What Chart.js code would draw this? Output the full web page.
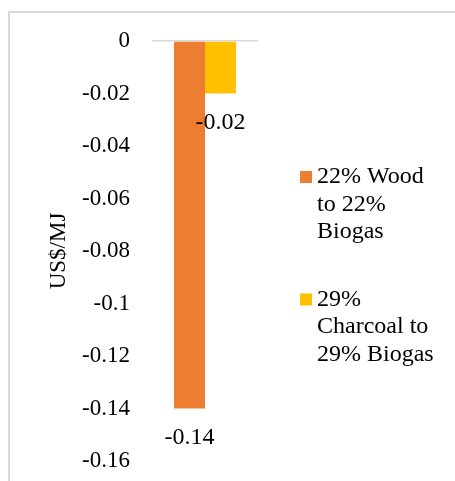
<!DOCTYPE html>
<html>
<head>
<meta charset="utf-8">
<script src="https://cdn.jsdelivr.net/npm/chart.js@4.4.0/dist/chart.umd.min.js"></script>
<style>
  html, body { margin: 0; padding: 0; background: #fff; }
  #wrap { position: relative; width: 455px; height: 481px; overflow: hidden; }
  #frame { position: absolute; left: 8px; top: 11px; width: 600px; height: 600px;
           border: 2px solid #d9d9d9; box-sizing: border-box; }
  canvas { position: absolute; left: 0; top: 0; }
</style>
</head>
<body>
<div id="wrap">
  <div id="frame"></div>
  <canvas id="chart" width="455" height="481"></canvas>
</div>
<script>
var categories = ['']
var woodValues = [-0.14]
var charcoalValues = [-0.02]
var seriesNames = ['22% Wood to 22% Biogas', '29% Charcoal to 29% Biogas']
// how each legend entry breaks over lines
var legendLines = [
  ['22% Wood', 'to 22%', 'Biogas'],
  ['29%', 'Charcoal to', '29% Biogas']
]
var yTicks = [0, -0.02, -0.04, -0.06, -0.08, -0.1, -0.12, -0.14, -0.16]

var colors = ['#ED7D31', '#FFC000']
var font = 'Liberation Serif, Times New Roman, serif'

// value under each bar
var barLabels = {
  id: 'barLabels',
  afterDatasetsDraw: function(chart){
    var ctx = chart.ctx
    ctx.save()
    ctx.font = '24px ' + font
    ctx.fillStyle = '#000'
    ctx.textAlign = 'center'
    ctx.textBaseline = 'middle'
    chart.data.datasets.forEach(function(ds, i){
      chart.getDatasetMeta(i).data.forEach(function(bar, j){
        ctx.fillText(String(ds.data[j]), bar.x, bar.y + 29)
      })
    })
    ctx.restore()
  }
}

// legend on the right with wrapped names
var sideLegend = {
  id: 'sideLegend',
  afterDraw: function(chart){
    var ctx = chart.ctx
    ctx.save()
    ctx.font = '24px ' + font
    ctx.textBaseline = 'middle'
    var y = 177
    chart.data.datasets.forEach(function(ds, i){
      ctx.fillStyle = ds.backgroundColor
      ctx.fillRect(300, y - 6, 12, 12)
      ctx.fillStyle = '#000'
      legendLines[i].forEach(function(line, k){
        ctx.fillText(line, 317, y + k * 27.5)
      })
      y += legendLines[i].length * 27.5 + 40
    })
    ctx.restore()
  }
}

var ctx = document.getElementById('chart').getContext('2d')
new Chart(ctx, {
  type: 'bar',
  data: {
    labels: categories,
    datasets: [{
      label: seriesNames[0],
      data: woodValues,
      backgroundColor: colors[0]
    }, {
      label: seriesNames[1],
      data: charcoalValues,
      backgroundColor: colors[1]
    }]
  },
  options: {
    responsive: false,
    animation: false,
    events: [],
    layout: { padding: { left: 45, right: 197, top: 41, bottom: 20 } },
    datasets: { bar: { barPercentage: 1, categoryPercentage: 0.585 } },
    plugins: {
      legend: { display: false },
      tooltip: { enabled: false }
    },
    scales: {
      x: { display: false },
      y: {
        min: -0.16,
        max: 0,
        afterBuildTicks: function(axis){
          axis.ticks = yTicks.map(function(v){ return { value: v } })
        },
        afterFit: function(axis){ axis.width = 107 },
        border: { display: false },
        grid: {
          drawTicks: true,
          tickLength: 22,
          tickColor: 'rgba(0,0,0,0)',
          lineWidth: 1.5,
          color: function(c){ return c.tick && c.tick.value === 0 ? '#d9d9d9' : 'rgba(0,0,0,0)' }
        },
        ticks: {
          padding: 0,
          color: '#000',
          font: { family: font, size: 23 },
          callback: function(v){ return String(v) }
        },
        title: {
          display: true,
          text: 'US$/MJ',
          color: '#000',
          font: { family: font, size: 23 },
          padding: 0
        }
      }
    }
  },
  plugins: [barLabels, sideLegend]
})
</script>
</body>
</html>
